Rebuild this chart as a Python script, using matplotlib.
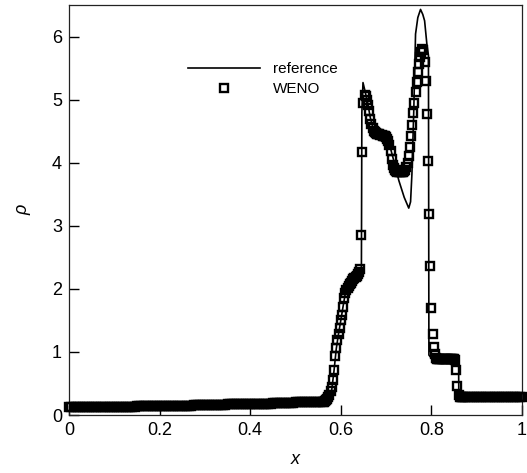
import numpy as np
import matplotlib
matplotlib.use('Agg')
import matplotlib.pyplot as plt

plt.rcParams['font.family'] = ['Liberation Sans', 'DejaVu Sans']

# reference solution
ref_x = [0.0, 0.2, 0.4, 0.5, 0.555, 0.568, 0.575, 0.58, 0.585, 0.59, 0.595, 0.6,
         0.605, 0.61, 0.615, 0.62, 0.63, 0.64, 0.6455, 0.6465, 0.649, 0.654, 0.66,
         0.665, 0.67, 0.68, 0.69, 0.70, 0.71, 0.72, 0.728, 0.74, 0.75, 0.754, 0.757,
         0.761, 0.765, 0.77, 0.776, 0.781, 0.785, 0.79, 0.7935, 0.7945, 0.80, 0.81,
         0.86, 0.8605, 0.87, 1.0]
ref_rho = [0.12, 0.15, 0.18, 0.20, 0.21, 0.22, 0.27, 0.40, 0.70, 1.05, 1.29, 1.50,
           1.72, 1.93, 2.02, 2.07, 2.17, 2.27, 2.35, 4.8, 5.27, 5.12, 4.92,
           4.72, 4.58, 4.47, 4.44, 4.42, 4.22, 3.95, 3.72, 3.45, 3.28, 3.38, 3.82,
           4.8, 6.04, 6.30, 6.43, 6.35, 6.25, 5.88, 5.70, 0.95, 0.90, 0.88,
           0.88, 0.30, 0.29, 0.29]

# WENO cell values, three pieces of the mesh
x_left = np.linspace(0.0, 0.555, 112)     # dx = 0.005
rho_left = [0.12] * 10 + \
    [0.12, 0.12, 0.12, 0.13, 0.13, 0.13, 0.13, 0.13, 0.13, 0.13] + \
    [0.13] * 10 + [0.14] * 10 + [0.15] * 10 + \
    [0.15, 0.15, 0.15, 0.15, 0.15, 0.16, 0.16, 0.16, 0.16, 0.16] + \
    [0.16] * 10 + [0.17] * 10 + [0.18] * 10 + [0.19] * 10 + [0.20] * 10 + \
    [0.21, 0.21]

x_mid = np.linspace(0.56, 0.8675, 124)    # dx = 0.0025
rho_mid = [0.21, 0.21, 0.22, 0.23, 0.25, 0.28, 0.32, 0.38, 0.45, 0.55,
           0.72, 0.93, 1.07, 1.19, 1.29, 1.38, 1.50, 1.59, 1.72, 1.85,
           1.93, 1.98, 2.02, 2.05, 2.07, 2.10, 2.13, 2.15, 2.17, 2.19,
           2.21, 2.24, 2.27, 2.32, 2.86, 4.17, 4.95, 5.08, 5.05, 5.00,
           4.92, 4.82, 4.70, 4.61, 4.55, 4.51, 4.48, 4.47, 4.46, 4.46,
           4.45, 4.44, 4.44, 4.43, 4.43, 4.42, 4.40, 4.38, 4.35, 4.28,
           4.18, 4.06, 3.97, 3.92, 3.89, 3.87, 3.86, 3.85, 3.85, 3.85,
           3.85, 3.86, 3.87, 3.89, 3.93, 4.00, 4.10, 4.25, 4.42, 4.60,
           4.78, 4.95, 5.12, 5.28, 5.43, 5.56, 5.67, 5.76, 5.81, 5.78,
           5.60, 5.30, 4.77, 4.03, 3.19, 2.36, 1.70, 1.29, 1.08, 0.96,
           0.91, 0.89, 0.88, 0.88, 0.88, 0.88, 0.88, 0.88, 0.88, 0.88,
           0.88, 0.88, 0.88, 0.88, 0.88, 0.88, 0.88, 0.87, 0.71, 0.46,
           0.31, 0.29, 0.29, 0.29]

x_right = np.linspace(0.87, 1.0, 27)      # dx = 0.005
rho_right = [0.29] * 27

x_weno = np.concatenate([x_left, x_mid, x_right])
rho_weno = np.array(rho_left + rho_mid + rho_right)

xticks = [0, 0.2, 0.4, 0.6, 0.8, 1.0]
xticklabels = ['0', '0.2', '0.4', '0.6', '0.8', '1']
yticks = [0, 1, 2, 3, 4, 5, 6]

fig = plt.figure(figsize=(5.27, 4.73), dpi=100)
ax = fig.add_axes([69 / 527, 1 - 415 / 473, (522 - 69) / 527, (415 - 5) / 473])

ax.plot(ref_x, ref_rho, color='black', lw=1.2, label='reference', zorder=2)
ax.plot(x_weno, rho_weno, ls='none', marker='s', ms=5.8, mew=1.7,
        mfc='none', mec='black', label='WENO', clip_on=False, zorder=3)

ax.set_xlim(0, 1)
ax.set_ylim(0, 6.5)
ax.set_xticks(xticks)
ax.set_xticklabels(xticklabels)
ax.set_yticks(yticks)
ax.tick_params(direction='in', length=7.5, width=1.0, labelsize=13, pad=5,
               top=False, right=False)
for s in ax.spines.values():
    s.set_linewidth(0.9)
    s.set_color('#222222')

ax.set_xlabel('x', fontsize=13, fontstyle='italic', labelpad=9)
ax.set_ylabel('ρ', fontsize=13, fontstyle='italic', labelpad=15)

ax.legend(loc='center left', bbox_to_anchor=(188 / 527, 1 - 79 / 473),
          bbox_transform=fig.transFigure, frameon=False, fontsize=11,
          handlelength=4.7, handletextpad=0.85, labelspacing=0.4,
          borderpad=0, borderaxespad=0, numpoints=1)

fig.savefig('out.png', dpi=100)
